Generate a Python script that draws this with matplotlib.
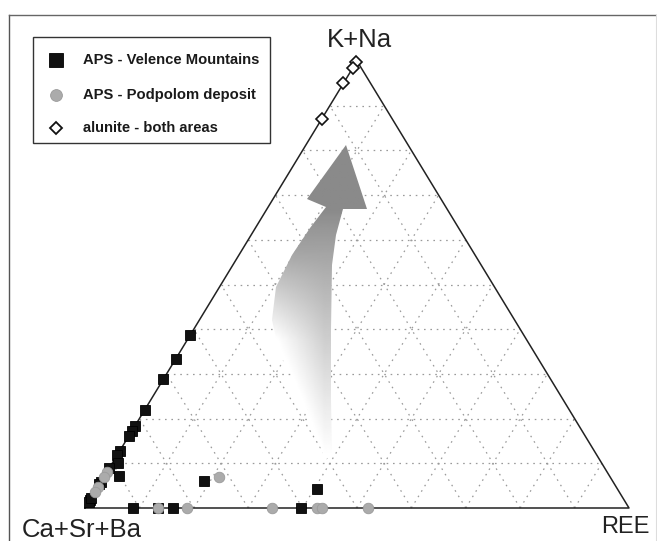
import numpy as np
import matplotlib
matplotlib.use("Agg")
import matplotlib.pyplot as plt
from matplotlib.path import Path
from matplotlib.patches import PathPatch, Rectangle

# ---------------- data (percent: K+Na, Ca+Sr+Ba, REE) ----------------
velence_kna = [38.7, 33.3, 28.8, 21.9, 18.3, 17.2, 16.0, 12.8, 11.9, 10.0, 7.2, 8.9, 5.9, 5.3, 1.9, 1.4, 2.2,
               0.0, 0.0, 0.0, 0.0, 6.0, 4.2]
velence_ree = [0.0, 0.0, 0.0, 0.0, 0.0, 0.0, 0.0, 0.0, 0.0, 1.1, 2.6, 0.0, 0.0, 0.0, 0.0, 0.0, 0.0,
               8.9, 13.4, 16.1, 39.7, 18.9, 40.5]
velence_ca = [100 - k - r for k, r in zip(velence_kna, velence_ree)]

podpolom_kna = [8.1, 6.9, 4.8, 3.6, 7.0, 0.0, 0.0, 0.0, 0.0, 0.0, 0.0]
podpolom_ree = [0.0, 0.0, 0.0, 0.0, 21.2, 13.4, 18.8, 34.3, 42.6, 43.5, 52.1]
podpolom_ca = [100 - k - r for k, r in zip(podpolom_kna, podpolom_ree)]

alunite_kna = [99.7, 98.5, 95.0, 87.0]
alunite_ree = [0.0, 0.0, 0.0, 0.0]
alunite_ca = [100 - k - r for k, r in zip(alunite_kna, alunite_ree)]

legend_labels = ["APS - Velence Mountains", "APS - Podpolom deposit", "alunite - both areas"]
apex_labels = ["K+Na", "Ca+Sr+Ba", "REE"]

# ---------------- layout helpers ----------------
W, H = 657, 541
X0, Y0 = 85.0, 508.0      # bottom-left vertex (px)
SX, SY = 544.0, 447.0     # triangle width / height (px)

def tern(kna, ca, ree):
    kna = np.asarray(kna, float) / 100.0
    ree = np.asarray(ree, float) / 100.0
    return ree + kna / 2.0, kna

def px2d(x, y):
    return (x - X0) / SX, (Y0 - y) / SY

fig = plt.figure(figsize=(W / 100, H / 100), dpi=100)
ax = fig.add_axes([0, 0, 1, 1])
ax.set_xlim(px2d(0, 0)[0], px2d(W, 0)[0])
ax.set_ylim(px2d(0, H)[1], px2d(0, 0)[1])
ax.axis("off")

# outer frame (partial, like the scanned figure)
ax.plot([px2d(9, 0)[0]] * 2, [px2d(0, H)[1], px2d(0, 15)[1]], color="#555555", lw=1.0)
ax.plot([px2d(9, 0)[0], px2d(W, 0)[0]], [px2d(0, 15)[1]] * 2, color="#666666", lw=1.0)
ax.plot([px2d(655.5, 0)[0]] * 2, [px2d(0, 15)[1], px2d(0, H)[1]], color="#dddddd", lw=0.8)

# grid (10 % steps)
gkw = dict(color="#9a9a9a", lw=0.9, ls=(0, (1.3, 3.8)), zorder=1)
for k in np.arange(0.1, 1.0, 0.1):
    ax.plot([k / 2, 1 - k / 2], [k, k], **gkw)                 # const K+Na
    ax.plot([k, k + (1 - k) / 2], [0, 1 - k], **gkw)           # const REE
    ax.plot([1 - k, (1 - k) / 2], [0, 1 - k], **gkw)           # const Ca+Sr+Ba

# triangle outline
ax.plot([0, 1, 0.5, 0], [0, 0, 1, 0], color="#222222", lw=1.1, zorder=2)

# gradient arrow
arrow_px = [(346, 145), (367, 209), (343, 209), (336, 235), (332, 265), (331, 330), (331, 400),
            (332, 455), (325, 460), (318, 440), (300, 390), (280, 355), (272, 320), (276, 287),
            (292, 255), (310, 228), (326, 207), (307, 199), (346, 145)]
verts = [px2d(x, y) for x, y in arrow_px]
path = Path(verts, closed=True)
patch = PathPatch(path, facecolor="none", edgecolor="none")
ax.add_patch(patch)
gy = np.linspace(140, 465, 300)
gx = np.linspace(265, 372, 120)
GX, GY = np.meshgrid(gx, gy)
t = np.clip((GY - 210) / (455 - 210), 0, 1)
horiz = np.clip((325 - GX) / 50.0, 0, 1) * np.clip((GY - 250) / 90.0, 0, 1)
val = 0.54 + 0.46 * t ** 0.85 + 0.2 * horiz
val = np.clip(val, 0, 1)
ext = [px2d(265, 0)[0], px2d(372, 0)[0], px2d(0, 465)[1], px2d(0, 140)[1]]
im = ax.imshow(val, extent=ext, origin="upper", cmap="gray", vmin=0, vmax=1,
               aspect="auto", zorder=3, interpolation="bilinear")
im.set_clip_path(patch)

# data points
vx, vy = tern(velence_kna, velence_ca, velence_ree)
ax.plot(vx, vy, ls="none", marker="s", ms=7.2, mfc="#111111", mec="#000000", mew=0.6, zorder=5)
px_, py_ = tern(podpolom_kna, podpolom_ca, podpolom_ree)
ax.plot(px_, py_, ls="none", marker="o", ms=7.6, mfc="#ababab", mec="#9a9a9a", mew=0.6, zorder=6)
ax_, ay_ = tern(alunite_kna, alunite_ca, alunite_ree)
ax.plot(ax_, ay_, ls="none", marker="D", ms=6.0, mfc="white", mec="#111111", mew=1.2, zorder=7)

# apex labels
lkw = dict(family="Liberation Sans", color="#222222", ha="center", va="center")
ax.text(*px2d(359, 40), apex_labels[0], fontsize=18.5, **lkw)
ax.text(*px2d(82, 530), apex_labels[1], fontsize=18.5, **lkw)
ax.text(*px2d(625, 527), apex_labels[2], fontsize=17, **lkw)

# legend (manual)
x0l, y0l = px2d(33, 143)
x1l, y1l = px2d(270, 37)
ax.add_patch(Rectangle((x0l, y0l), x1l - x0l, y1l - y0l, facecolor="white",
                       edgecolor="#333333", lw=1.0, zorder=8))
rows = [60, 95, 128]
styles = [dict(marker="s", ms=10.5, mfc="#111111", mec="#000000", mew=0.6),
          dict(marker="o", ms=8.5, mfc="#ababab", mec="#9a9a9a", mew=0.6),
          dict(marker="D", ms=6.5, mfc="white", mec="#111111", mew=1.3)]
for ry, lab, st in zip(rows, legend_labels, styles):
    mx, my = px2d(56, ry)
    ax.plot([mx], [my], ls="none", zorder=9, **st)
    tx, ty = px2d(83, ry)
    ax.text(tx, ty, lab, fontsize=10.6, fontweight="bold", family="Liberation Sans",
            color="#1a1a1a", ha="left", va="center", zorder=9)

fig.savefig("out.png", dpi=100, facecolor="white")
